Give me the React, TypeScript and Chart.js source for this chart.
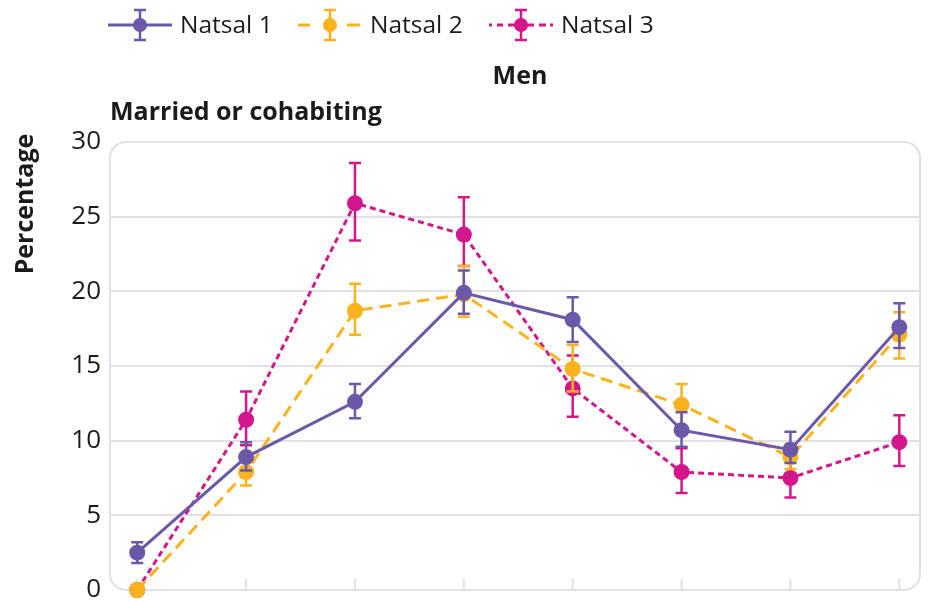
import React, { useEffect, useRef } from "react";
import { Chart, registerables } from "chart.js";

Chart.register(...registerables);

// ---- Data ----
const categories = ["G1", "G2", "G3", "G4", "G5", "G6", "G7", "G8"];
const yTicks = [0, 5, 10, 15, 20, 25, 30];

const natsal1 = [2.5, 8.9, 12.6, 19.9, 18.1, 10.7, 9.4, 17.6];
const natsal1Low = [1.8, 8.0, 11.5, 18.5, 16.6, 9.6, 8.5, 16.2];
const natsal1High = [3.2, 9.9, 13.8, 21.4, 19.6, 11.9, 10.6, 19.2];

const natsal2 = [0, 7.9, 18.7, 19.8, 14.8, 12.4, 8.9, 17.1];
const natsal2Low = [0, 7.0, 17.1, 18.3, 13.3, 10.9, 8.1, 15.5];
const natsal2High = [0, 9.0, 20.5, 21.7, 16.4, 13.8, 9.8, 18.6];

const natsal3 = [0, 11.4, 25.9, 23.8, 13.5, 7.9, 7.5, 9.9];
const natsal3Low = [0, 9.7, 23.4, 21.7, 11.6, 6.5, 6.2, 8.3];
const natsal3High = [0, 13.3, 28.6, 26.3, 15.7, 9.5, 8.8, 11.7];

const seriesNames = ["Natsal 1", "Natsal 2", "Natsal 3"];
const titleText = "Men";
const subtitleText = "Married or cohabiting";
const yTitle = "Percentage";

// ---- Styles ----
const PURPLE = "#6b58a8";
const ORANGE = "#fbb21f";
const MAGENTA = "#d4168c";
const colors = [PURPLE, ORANGE, MAGENTA];
const dashes = [[], [12, 7], [6, 4]];
const lows = [natsal1Low, natsal2Low, natsal3Low];
const highs = [natsal1High, natsal2High, natsal3High];
const GRID = "#dfe1e7";
const TEXT = "#1b1b1b";
const FONT = "'Open Sans', 'Noto Sans', sans-serif";

const errorBarPlugin = {
  id: "errorBars",
  afterDatasetDraw(chart: any, args: any) {
    const i = args.index;
    const meta = args.meta;
    const ctx = chart.ctx;
    const y = chart.scales.y;
    ctx.save();
    ctx.strokeStyle = colors[i];
    ctx.lineWidth = 2.5;
    ctx.setLineDash([]);
    meta.data.forEach((pt: any, j: number) => {
      const lo = lows[i][j];
      const hi = highs[i][j];
      if (lo === hi) return;
      const x = pt.x;
      const y1 = y.getPixelForValue(lo);
      const y2 = y.getPixelForValue(hi);
      ctx.beginPath();
      ctx.moveTo(x, y1);
      ctx.lineTo(x, y2);
      ctx.moveTo(x - 6, y1);
      ctx.lineTo(x + 6, y1);
      ctx.moveTo(x - 6, y2);
      ctx.lineTo(x + 6, y2);
      ctx.stroke();
    });
    ctx.restore();
  },
};

function roundRectPath(ctx: CanvasRenderingContext2D, x: number, y: number, w: number, h: number, r: number) {
  ctx.beginPath();
  ctx.moveTo(x + r, y);
  ctx.lineTo(x + w - r, y);
  ctx.arcTo(x + w, y, x + w, y + r, r);
  ctx.lineTo(x + w, y + h - r);
  ctx.arcTo(x + w, y + h, x + w - r, y + h, r);
  ctx.lineTo(x + r, y + h);
  ctx.arcTo(x, y + h, x, y + h - r, r);
  ctx.lineTo(x, y + r);
  ctx.arcTo(x, y, x + r, y, r);
  ctx.closePath();
}

const framePlugin = {
  id: "frame",
  beforeDatasetsDraw(chart: any) {
    const { ctx, chartArea } = chart;
    const xs = chart.scales.x;
    ctx.save();
    ctx.strokeStyle = GRID;
    ctx.lineWidth = 2;
    roundRectPath(ctx, chartArea.left, chartArea.top, chartArea.right - chartArea.left, chartArea.bottom - chartArea.top, 16);
    ctx.stroke();
    // inner tick marks on the bottom edge
    categories.forEach((_, k) => {
      const px = xs.getPixelForValue(k);
      ctx.beginPath();
      ctx.moveTo(px, chartArea.bottom);
      ctx.lineTo(px, chartArea.bottom - 11);
      ctx.stroke();
    });
    ctx.restore();
  },
};

const textPlugin = {
  id: "texts",
  afterDraw(chart: any) {
    const { ctx, chartArea } = chart;
    ctx.save();
    // Legend
    const legendX = [108, 298, 489];
    const ly = 25;
    seriesNames.forEach((name, i) => {
      const x0 = legendX[i];
      const cx = x0 + 32;
      ctx.strokeStyle = colors[i];
      ctx.lineWidth = 3;
      ctx.setLineDash([]);
      if (i === 0) {
        ctx.beginPath();
        ctx.moveTo(x0, ly);
        ctx.lineTo(x0 + 64, ly);
        ctx.stroke();
      } else if (i === 1) {
        ctx.beginPath();
        ctx.moveTo(x0, ly);
        ctx.lineTo(x0 + 12, ly);
        ctx.moveTo(x0 + 49, ly);
        ctx.lineTo(x0 + 62, ly);
        ctx.stroke();
      } else {
        ctx.beginPath();
        [[0, 3], [8, 14], [19, 26], [38, 45], [50, 57], [61, 64]].forEach(([a, b]) => {
          ctx.moveTo(x0 + a, ly);
          ctx.lineTo(x0 + b, ly);
        });
        ctx.stroke();
      }
      ctx.lineWidth = 2.5;
      ctx.beginPath();
      ctx.moveTo(cx, ly - 15);
      ctx.lineTo(cx, ly + 15);
      ctx.moveTo(cx - 6, ly - 15);
      ctx.lineTo(cx + 6, ly - 15);
      ctx.moveTo(cx - 6, ly + 15);
      ctx.lineTo(cx + 6, ly + 15);
      ctx.stroke();
      ctx.fillStyle = colors[i];
      ctx.beginPath();
      ctx.arc(cx, ly, 7, 0, Math.PI * 2);
      ctx.fill();
      ctx.fillStyle = TEXT;
      ctx.font = `24.5px ${FONT}`;
      ctx.textAlign = "left";
      ctx.textBaseline = "middle";
      ctx.fillText(name, x0 + 72, ly + 1);
    });
    // Title
    ctx.fillStyle = TEXT;
    ctx.font = `bold 25px ${FONT}`;
    ctx.textAlign = "center";
    ctx.textBaseline = "middle";
    ctx.fillText(titleText, 520, 77);
    // Subtitle
    ctx.textAlign = "left";
    ctx.fillText(subtitleText, chartArea.left, 113);
    // Y title
    ctx.translate(26, 204);
    ctx.rotate(-Math.PI / 2);
    ctx.textAlign = "center";
    ctx.fillText(yTitle, 0, 0);
    ctx.restore();
  },
};

export default function App() {
  const ref = useRef<HTMLCanvasElement | null>(null);
  useEffect(() => {
    if (!ref.current) return;
    const series = [natsal1, natsal2, natsal3];
    const chart = new Chart(ref.current, {
      type: "line",
      data: {
        datasets: series.map((vals, i) => ({
          label: seriesNames[i],
          data: vals.map((v, k) => ({ x: k, y: v })),
          borderColor: colors[i],
          backgroundColor: colors[i],
          borderWidth: 3,
          borderDash: dashes[i],
          pointRadius: 8,
          pointHoverRadius: 8,
          pointBackgroundColor: colors[i],
          pointBorderWidth: 0,
          tension: 0,
          fill: false,
          clip: false as any,
        })),
      },
      options: {
        animation: false,
        responsive: false,
        maintainAspectRatio: false,
        events: [],
        layout: { padding: { top: 142, bottom: 12, left: 0, right: 2 } },
        plugins: { legend: { display: false }, tooltip: { enabled: false }, title: { display: false } },
        scales: {
          x: {
            type: "linear",
            min: -0.25,
            max: 7.19,
            display: false,
          },
          y: {
            min: 0,
            max: 30,
            afterFit: (s: any) => {
              s.width = 110;
              s.paddingTop = 0;
              s.paddingBottom = 0;
            },
            afterBuildTicks: (s: any) => {
              s.ticks = yTicks.map((v) => ({ value: v }));
            },
            border: { display: false },
            grid: {
              drawTicks: false,
              lineWidth: 2,
              color: (c: any) => (c.tick && (c.tick.value === 0 || c.tick.value === 30) ? "rgba(0,0,0,0)" : GRID),
            },
            ticks: {
              padding: 9,
              color: TEXT,
              font: { family: FONT, size: 26 },
            },
          },
        },
      },
      plugins: [framePlugin, errorBarPlugin, textPlugin],
    });
    return () => chart.destroy();
  }, []);
  return (
    <div style={{ position: "fixed", left: 0, top: 0, width: 928, height: 602, background: "#fff" }}>
      <canvas ref={ref} width={928} height={602} style={{ width: 928, height: 602, display: "block" }} />
    </div>
  );
}
